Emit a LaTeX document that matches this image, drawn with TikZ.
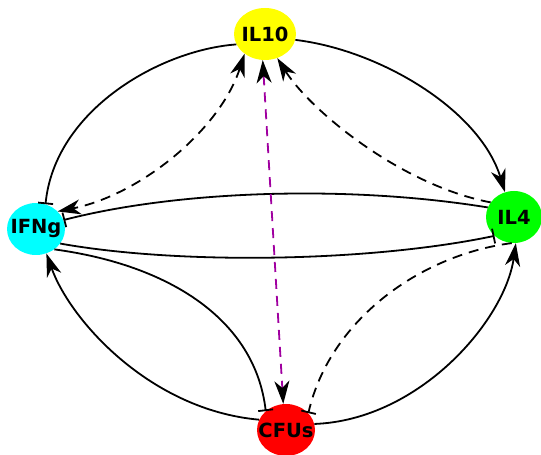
\documentclass[tikz,border=0pt]{standalone}
\usepackage{fontspec}
\setmainfont{DejaVu Sans}
\usetikzlibrary{arrows.meta,shapes.geometric}
\definecolor{edgepurple}{RGB}{160,0,160}
\definecolor{geneyellow}{RGB}{255,255,0}
\definecolor{genecyan}{RGB}{0,255,255}
\definecolor{genegreen}{RGB}{0,255,0}
\definecolor{genered}{RGB}{255,0,0}
\newcommand{\genename}[1]{\makebox[0pt]{#1}}
\tikzset{
  gene/.style={ellipse, inner sep=0pt, minimum width=#1, minimum height=52pt,
    font=\fontsize{19.5}{19.5}\selectfont\bfseries},
  link/.style={line width=1.8pt},
  dashlink/.style={line width=1.8pt, dash pattern=on 10pt off 7pt},
  act/.style={-{Stealth[length=23pt,width=15pt,inset=7pt]}},
  actboth/.style={{Stealth[length=23pt,width=15pt,inset=7pt]}-{Stealth[length=23pt,width=15pt,inset=7pt]}},
  inh/.style={-{Bar[width=15pt,line width=1.8pt]}},
}
\begin{document}
\begin{tikzpicture}[x=1pt,y=1pt]
\useasboundingbox (0,0) rectangle (541,455);

% genes
\node[gene=62pt, fill=geneyellow] (IL10) at (265,421) {\genename{IL10}};
\node[gene=58pt, fill=genecyan]   (IFNg) at (36,226)  {\genename{IFNg}};
\node[gene=56pt, fill=genegreen]  (IL4)  at (514,238) {\genename{IL4}};
\node[gene=58pt, fill=genered]    (CFUs) at (286,25)  {\genename{CFUs}};

% solid interactions
\draw[link,act] (IL10.-11) .. controls (380,405) and (480,345) .. (IL4.110);
\draw[link,inh] (IL10.200) .. controls (160,405) and (55,345) .. (IFNg.69);
\draw[link,inh] (IL4.160) .. controls (350,270) and (180,265) .. (IFNg.18);
\draw[link,inh] (IFNg.-31) .. controls (180,190) and (370,193) .. (IL4.224);
\draw[link,inh] (IFNg.-48) .. controls (170,190) and (255,135) .. (CFUs.137);
\draw[link,act] (CFUs.159) .. controls (150,45) and (70,135) .. (IFNg.-67);
\draw[link,act] (CFUs.12) .. controls (420,35) and (505,135) .. (IL4.-86);

% dashed interactions
\draw[dashlink,actboth] (IL10.224) .. controls (220,325) and (140,260) .. (IFNg.39);
\draw[dashlink,act] (IL4.148) .. controls (400,270) and (310,345) .. (IL10.-63);
\draw[dashlink,inh] (IL4.265) .. controls (420,200) and (330,135) .. (CFUs.37);
\draw[dashlink,edgepurple,actboth,
      arrows={[black]}] (IL10.265) -- (CFUs.96);
\end{tikzpicture}
\end{document}
